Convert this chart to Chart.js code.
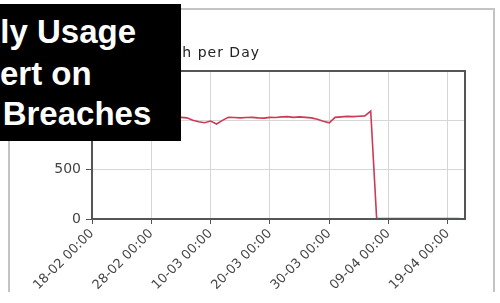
<!DOCTYPE html>
<html>
<head>
<meta charset="utf-8">
<script src="https://cdn.jsdelivr.net/npm/chart.js@4/dist/chart.umd.min.js"></script>
<style>
  html, body { margin: 0; padding: 0; background: #fff; overflow: hidden; }
  #wrap { position: relative; width: 500px; height: 303px; }
  #usageChart { position: absolute; left: 0; top: 0; }
  .frame {
    position: absolute; left: 8px; top: 8px; width: 483px; height: 282px;
    border: 2px solid #c4c4c4; border-bottom: none;
  }
  .banner {
    position: absolute; left: 0; top: 4px; width: 181px; height: 137px;
    background: #000; overflow: hidden;
    font-family: "Liberation Sans", Arial, sans-serif; font-weight: bold;
    font-size: 33px; line-height: 33px; color: #fff;
  }
  .banner div { position: absolute; white-space: nowrap; }
</style>
</head>
<body>
<div id="wrap">
  <canvas id="usageChart" width="500" height="303"></canvas>
  <div class="frame"></div>
  <div class="banner">
    <div style="left:-51px; top:11px;">Daily Usage</div>
    <div style="left:-33px; top:53px;">Alert on</div>
    <div style="left:-166px; top:93px;">Threshold Breaches</div>
  </div>
</div>
<script>
// дні (18-02 .. 21-04)
const dates = [
  "18-02", "19-02", "20-02", "21-02", "22-02", "23-02", "24-02", "25-02", "26-02", "27-02", "28-02",
  "01-03", "02-03", "03-03", "04-03", "05-03", "06-03", "07-03", "08-03", "09-03", "10-03",
  "11-03", "12-03", "13-03", "14-03", "15-03", "16-03", "17-03", "18-03", "19-03", "20-03",
  "21-03", "22-03", "23-03", "24-03", "25-03", "26-03", "27-03", "28-03", "29-03", "30-03", "31-03",
  "01-04", "02-04", "03-04", "04-04", "05-04", "06-04", "07-04", "08-04", "09-04", "10-04",
  "11-04", "12-04", "13-04", "14-04", "15-04", "16-04", "17-04", "18-04", "19-04", "20-04", "21-04"
];

// kWh за день
const kwhPerDay = [
  1040, 1050, 1035, 1045, 1030, 1040, 1050, 1045, 1035, 1040, 1045, 1030, 1040, 1035,
  1034, 1030, 1025, 1000, 985, 975, 993, 963, 1000, 1030, 1028, 1025, 1028, 1030,
  1025, 1022, 1030, 1028, 1035, 1038, 1030, 1035, 1030, 1025, 1010, 990, 975,
  1030, 1035, 1040, 1038, 1042, 1045, 1094,
  5, 5, 5, 5, 5, 5, 5, 5, 5, 5, 5, 5, 5, 5, 5
];

const xTickLabels = ["18-02 00:00", "28-02 00:00", "10-03 00:00", "20-03 00:00", "30-03 00:00", "09-04 00:00", "19-04 00:00"];
const yTicks = [0, 500, 1000, 1500];
const chartTitle = "kWh per Day";

// рамка області графіка + заголовок
const framePlugin = {
  id: "frameAndTitle",
  afterDraw(chart) {
    const { ctx, chartArea: a } = chart;
    ctx.save();
    ctx.strokeStyle = "#555";
    ctx.lineWidth = 2;
    ctx.strokeRect(a.left, a.top, a.right - a.left, a.bottom - a.top);
    ctx.fillStyle = "#222";
    ctx.font = "14px 'DejaVu Sans', sans-serif";
    ctx.letterSpacing = "1px";
    ctx.textAlign = "right";
    ctx.textBaseline = "alphabetic";
    ctx.fillText(chartTitle, 260, 57);
    ctx.restore();
  },
};

const ctx = document.getElementById("usageChart").getContext("2d");
new Chart(ctx, {
  type: "line",
  data: {
    datasets: [
      {
        label: chartTitle,
        data: kwhPerDay.map((v, i) => ({ x: i, y: v })),
        borderColor: "#cc3a55",
        borderWidth: 1.6,
        pointRadius: 0,
        tension: 0,
        fill: false,
      },
    ],
  },
  options: {
    responsive: false,
    animation: false,
    layout: { padding: { top: 71, left: 0, right: 35, bottom: 0 } },
    plugins: {
      legend: { display: false },
      tooltip: { enabled: false },
    },
    scales: {
      x: {
        type: "linear",
        min: 0,
        max: dates.length - 0.1,
        afterFit: (s) => { s.height = 84; },
        afterBuildTicks: (s) => {
          s.ticks = xTickLabels.map((_, i) => ({ value: i * 10 }));
        },
        grid: { color: "#d6d6d6", tickColor: "#555", tickLength: 5, lineWidth: 1 },
        border: { color: "#555", width: 2 },
        ticks: {
          autoSkip: false,
          maxRotation: 45,
          minRotation: 45,
          padding: 2,
          color: "#444",
          font: { family: "'DejaVu Sans', sans-serif", size: 13 },
          callback: (v) => xTickLabels[Math.round(v / 10)],
        },
      },
      y: {
        min: 0,
        max: 1500,
        afterFit: (s) => { s.width = 92; },
        afterBuildTicks: (s) => {
          s.ticks = yTicks.map((v) => ({ value: v }));
        },
        grid: { color: "#d6d6d6", tickColor: "#555", tickLength: 6, lineWidth: 1 },
        border: { color: "#555", width: 2 },
        ticks: {
          color: "#444",
          font: { family: "'DejaVu Sans', sans-serif", size: 14 },
          padding: 5,
        },
      },
    },
  },
  plugins: [framePlugin],
});
</script>
</body>
</html>
